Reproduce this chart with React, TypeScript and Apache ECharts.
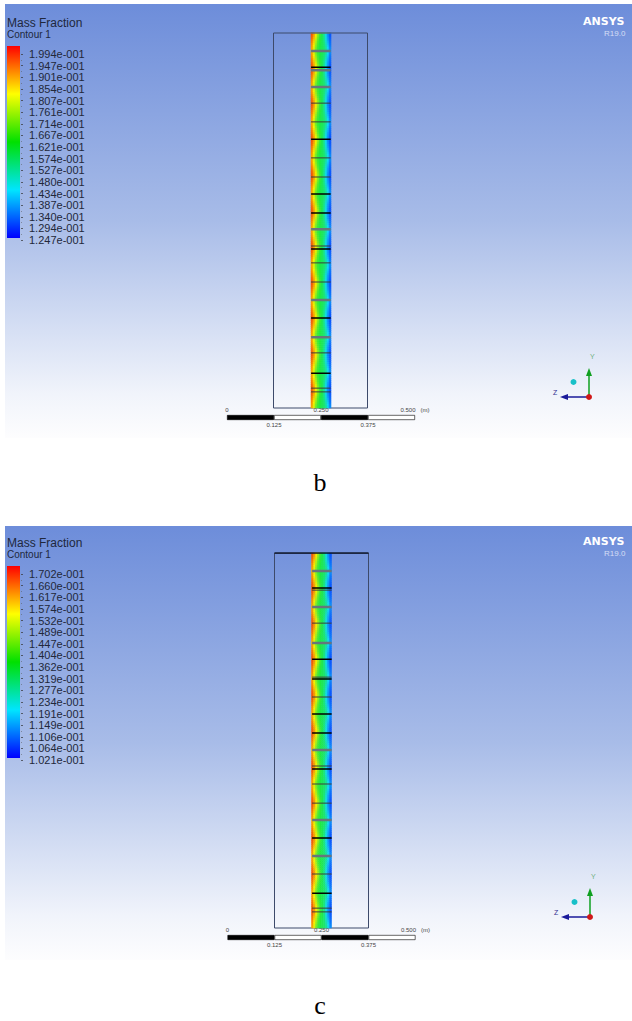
import React, { useEffect, useRef } from "react";
import * as echarts from "echarts";

const legendLabelsB = ["1.994e-001","1.947e-001","1.901e-001","1.854e-001","1.807e-001","1.761e-001","1.714e-001","1.667e-001","1.621e-001","1.574e-001","1.527e-001","1.480e-001","1.434e-001","1.387e-001","1.340e-001","1.294e-001","1.247e-001"];
const legendLabelsC = ["1.702e-001","1.660e-001","1.617e-001","1.574e-001","1.532e-001","1.489e-001","1.447e-001","1.404e-001","1.362e-001","1.319e-001","1.277e-001","1.234e-001","1.191e-001","1.149e-001","1.106e-001","1.064e-001","1.021e-001"];

// position on the colour legend (0 = blue, 100 = red) across the channel, from a wide-orange row to a thin-orange row
const unitCell = [
  [94,86,76,64,54,48,40,27,14,6],
  [93,85,74,62,53,48,40,27,15,6],
  [92,83,72,60,52,48,41,28,16,7],
  [90,81,69,58,51,48,41,29,17,8],
  [89,79,67,56,51,47,42,31,19,9],
  [87,77,65,55,50,47,43,33,21,10],
  [86,75,63,54,50,47,43,35,23,11],
  [85,73,61,53,49,47,44,37,25,13],
  [84,72,60,53,49,47,44,38,27,14],
];
const segmentCount = 21;

// separator heights along the column, metres
const grayB = [0.952,0.901,0.856,0.477,0.288,0.189];
const darkB = [0.813,0.763,0.667,0.616,0.432,0.387,0.336,0.147,0.053,0.043];
const blackB = [0.909,0.717,0.571,0.52,0.424,0.24,0.093];
const grayC = [0.952,0.856,0.76,0.475,0.288,0.192];
const darkC = [0.901,0.813,0.669,0.616,0.432,0.384,0.333,0.144,0.053,0.043];
const blackC = [0.907,0.717,0.664,0.571,0.52,0.424,0.24,0.093];

const boxWidth = 0.25;
const boxHeight = 1.0;
const channelLeft = 0.1;
const channelRight = 0.152;
const scaleSteps = [0.125,0.125,0.125,0.125];

const jet = ["#0000ff","#00e5ff","#00e000","#ffff00","#ff0000"];
const contourColors = ["#0a30ff","#10d8f4","#20ea40","#f6f000","#f02808"];

function App() {
  const ref = useRef<HTMLDivElement>(null);
  useEffect(() => {
    const chart = echarts.init(ref.current!, null, { renderer: "svg" });

    const grid: any[] = [], xAxis: any[] = [], yAxis: any[] = [], series: any[] = [], graphic: any[] = [], heatIdx: number[] = [];

    const rowCats: number[] = [];
    for (let i = 0; i < segmentCount * unitCell.length; i++) rowCats.push(i);
    const colCats = unitCell[0].map((_, i) => i);
    const heatData: number[][] = [];
    for (let s = 0; s < segmentCount; s++) {
      const rows = s % 2 === 0 ? unitCell : [...unitCell].reverse();
      rows.forEach((row, r) => row.forEach((v, c) => heatData.push([c, s * unitCell.length + r, v])));
    }

    const segs = (ys: number[]) => {
      const out: any[] = [];
      ys.forEach((y) => { out.push([channelLeft, y], [channelRight, y], [null, null]); });
      return out;
    };

    function panel(dx: number, dy: number, bgTop: number, labels: string[], gray: number[], dark: number[], black: number[], heavyTop: boolean) {
      // background
      graphic.push({
        type: "rect", z: -10, shape: { x: 5, y: bgTop, width: 627, height: 434 },
        style: { fill: new echarts.graphic.LinearGradient(0, 0, 0, 1, [
          { offset: 0, color: "#6d8dda" }, { offset: 0.5, color: "#a8bce8" }, { offset: 0.9, color: "#f1f4fb" }, { offset: 1, color: "#fdfdfe" },
        ]) },
      });
      graphic.push({ type: "text", x: 7, y: 17 + dy, style: { text: "Mass Fraction", font: "12px 'Liberation Sans'", fill: "#20283c" } });
      graphic.push({ type: "text", x: 7, y: 29 + dy, style: { text: "Contour 1", font: "10px 'Liberation Sans'", fill: "#20283c" } });
      graphic.push({ type: "text", x: 583, y: 16 + dy, style: { text: "ANSYS", font: "bold 11px 'DejaVu Sans'", fill: "#ffffff" } });
      graphic.push({ type: "text", x: 604, y: 29 + dy, style: { text: "R19.0", font: "8px 'Liberation Sans'", fill: "#d5def5" } });

      // triad
      const ox = 589 + dx, oy = 397 + dy;
      graphic.push({ type: "line", z: 20, shape: { x1: ox, y1: oy, x2: ox, y2: oy - 24 }, style: { stroke: "#10a020", lineWidth: 1.5 } });
      graphic.push({ type: "polygon", z: 20, shape: { points: [[ox, oy - 29], [ox - 3, oy - 21], [ox + 3, oy - 21]] }, style: { fill: "#10a020" } });
      graphic.push({ type: "line", z: 20, shape: { x1: ox, y1: oy, x2: ox - 24, y2: oy }, style: { stroke: "#1a1a9a", lineWidth: 1.5 } });
      graphic.push({ type: "polygon", z: 20, shape: { points: [[ox - 29, oy], [ox - 21, oy - 3], [ox - 21, oy + 3]] }, style: { fill: "#1a1a9a" } });
      graphic.push({ type: "circle", z: 21, shape: { cx: ox, cy: oy, r: 3 }, style: { fill: "#d01818" } });
      graphic.push({ type: "circle", z: 21, shape: { cx: ox - 15.5, cy: oy - 15, r: 3 }, style: { fill: "#18c0c8" } });
      graphic.push({ type: "text", z: 21, x: ox + 1, y: oy - 44, style: { text: "Y", font: "7px 'Liberation Sans'", fill: "#70b080" } });
      graphic.push({ type: "text", z: 21, x: ox - 36, y: oy - 8, style: { text: "Z", font: "7px 'Liberation Sans'", fill: "#303090" } });

      // legend bar
      let g = grid.length;
      grid.push({ left: 7, top: 46 + dy, width: 13, height: 192 });
      xAxis.push({ type: "category", gridIndex: g, data: ["bar"], show: false });
      yAxis.push({ type: "value", gridIndex: g, min: 0, max: labels.length - 1, show: false });
      series.push({
        type: "bar", xAxisIndex: xAxis.length - 1, yAxisIndex: yAxis.length - 1, barWidth: "100%", silent: true,
        data: [labels.length - 1],
        itemStyle: { color: new echarts.graphic.LinearGradient(0, 0, 0, 1, [
          { offset: 0, color: jet[4] }, { offset: 0.25, color: jet[3] }, { offset: 0.5, color: jet[2] }, { offset: 0.75, color: jet[1] }, { offset: 1, color: jet[0] },
        ]) },
      });

      // legend labels
      g = grid.length;
      grid.push({ left: 20, top: 54 + dy, width: 5, height: 186 });
      xAxis.push({ type: "value", gridIndex: g, min: 0, max: 1, show: false });
      yAxis.push({
        type: "value", gridIndex: g, min: 0, max: labels.length - 1, interval: 1, position: "left",
        axisLine: { show: false, onZero: false },
        axisTick: { show: true, inside: true, length: 2, lineStyle: { color: "#333", width: 0.7 } },
        minorTick: { show: true, splitNumber: 2, length: 1, lineStyle: { color: "#555", width: 0.5 } },
        splitLine: { show: false },
        offset: -1,
        axisLabel: {
          show: true, inside: true, margin: 8, align: "left", color: "#22283a", fontSize: 11, fontFamily: "Liberation Sans",
          formatter: (v: number) => labels[labels.length - 1 - Math.round(v)],
          showMinLabel: true, showMaxLabel: true,
        },
      });

      // outer box + separators
      g = grid.length;
      grid.push({ left: 273.5 + dx, top: 33 + dy, width: 94, height: 375, show: true, borderColor: "#3d4a6a", borderWidth: 1, backgroundColor: "transparent" });
      xAxis.push({ type: "value", gridIndex: g, min: 0, max: boxWidth, show: false });
      yAxis.push({ type: "value", gridIndex: g, min: 0, max: boxHeight, show: false });
      const bx = xAxis.length - 1, by = yAxis.length - 1;
      const lineSeries = (data: any[], color: string, width: number) => ({
        type: "line", xAxisIndex: bx, yAxisIndex: by, data, symbol: "none", silent: true, connectNulls: false, z: 5,
        lineStyle: { color, width },
      });
      series.push(lineSeries(segs(gray), "#66757d", 2.5));
      series.push(lineSeries(segs(dark), "#3c3c3c", 1));
      series.push(lineSeries(segs(black), "#000000", 1.5));
      if (heavyTop) {
        series.push(lineSeries([[0, boxHeight], [boxWidth, boxHeight]], "#0a1020", 1.5));
      } else {
        series.push(lineSeries(segs([boxHeight]), "#5a6a70", 1.5));
      }

      // channel contour
      g = grid.length;
      grid.push({ left: 311 + dx * 0.5, top: 33 + dy, width: 20, height: 375 });
      xAxis.push({ type: "category", gridIndex: g, data: colCats, show: false });
      yAxis.push({ type: "category", gridIndex: g, data: rowCats, inverse: true, show: false });
      heatIdx.push(series.length);
      series.push({ type: "heatmap", xAxisIndex: xAxis.length - 1, yAxisIndex: yAxis.length - 1, data: heatData, silent: true, z: 2, progressive: 0 });

      // scale bar
      g = grid.length;
      grid.push({ left: 227 + dx * 0.5, top: 415 + dy, width: 188, height: 5 });
      xAxis.push({
        type: "value", gridIndex: g, min: 0, max: 0.5, interval: 0.25, position: "top",
        axisLine: { show: false }, axisTick: { show: false }, splitLine: { show: false },
        axisLabel: {
          show: true, margin: 2, color: "#444", fontSize: 6, fontFamily: "Liberation Sans", hideOverlap: false, showMinLabel: true, showMaxLabel: true,
          rich: { v: { fontSize: 6, color: "#444", fontFamily: "Liberation Sans", padding: [0, 5, 0, 0] }, m: { fontSize: 6, color: "#444", fontFamily: "Liberation Sans" } },
          formatter: (v: number) => (v === 0 ? "0" : v === 0.5 ? "{v|0.500}{m|(m)}" : v.toFixed(3)),
        },
      });
      const sx = xAxis.length - 1;
      xAxis.push({
        type: "value", gridIndex: g, min: 0, max: 0.5, interval: 0.125, position: "bottom",
        axisLine: { show: false }, axisTick: { show: false }, splitLine: { show: false },
        axisLabel: { show: true, margin: 2, color: "#444", fontSize: 6, fontFamily: "Liberation Sans", showMinLabel: false, showMaxLabel: false,
          formatter: (v: number) => (Math.abs(v - 0.125) < 1e-6 || Math.abs(v - 0.375) < 1e-6 ? v.toFixed(3) : "") },
      });
      yAxis.push({ type: "category", gridIndex: g, data: ["scale"], show: false });
      const sy = yAxis.length - 1;
      scaleSteps.forEach((step, i) => {
        series.push({
          type: "bar", xAxisIndex: sx, yAxisIndex: sy, stack: "scale" + dy, barWidth: "100%", silent: true, data: [step],
          itemStyle: { color: i % 2 === 0 ? "#000000" : "#ffffff", borderColor: "#000000", borderWidth: 0.6 },
        });
      });
    }

    panel(0, 0, 4, legendLabelsB, grayB, darkB, blackB, false);
    panel(1, 520, 526, legendLabelsC, grayC, darkC, blackC, true);

    graphic.push({ type: "text", x: 320, y: 469, style: { text: "b", font: "26px 'Liberation Serif'", fill: "#000", align: "center" } });
    graphic.push({ type: "text", x: 320, y: 992, style: { text: "c", font: "26px 'Liberation Serif'", fill: "#000", align: "center" } });

    chart.setOption({
      animation: false,
      backgroundColor: "#ffffff",
      grid, xAxis, yAxis, series, graphic,
      visualMap: { show: false, type: "continuous", min: 0, max: 100, seriesIndex: heatIdx, inRange: { color: contourColors } },
    });
    return () => chart.dispose();
  }, []);
  return <div ref={ref} style={{ position: "absolute", left: 0, top: 0, width: 632, height: 1021 }} />;
}

export default App;
